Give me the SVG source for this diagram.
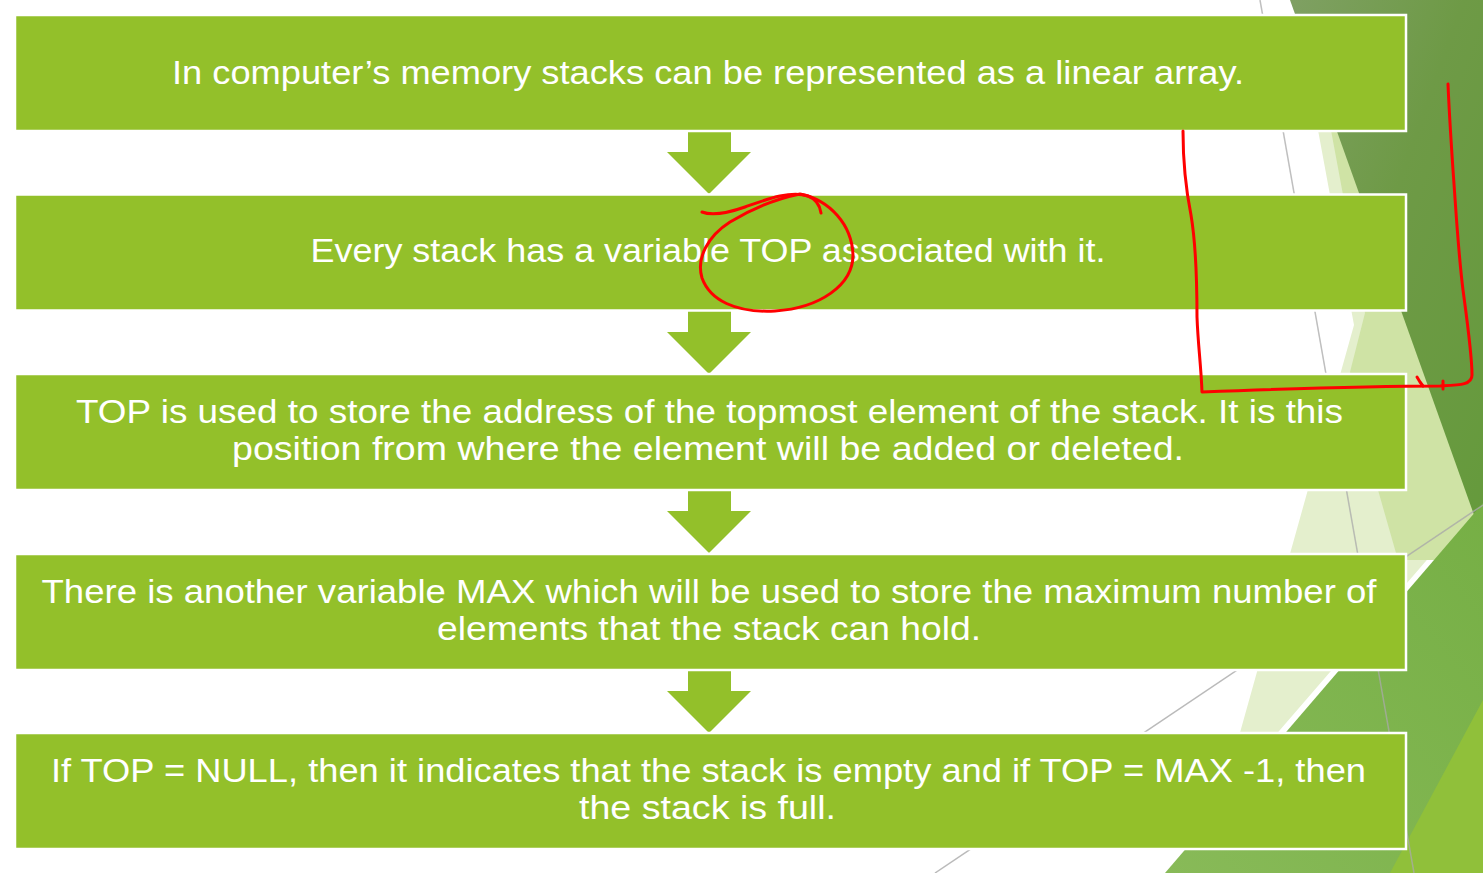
<svg xmlns="http://www.w3.org/2000/svg" width="1483" height="873" viewBox="0 0 1483 873">
  <defs>
    <linearGradient id="darkGrad" x1="0" y1="0" x2="1" y2="1">
      <stop offset="0" stop-color="#7FA063"/>
      <stop offset="0.45" stop-color="#6E9A46"/>
      <stop offset="1" stop-color="#659A3C"/>
    </linearGradient>
    <linearGradient id="medGrad" x1="0" y1="1" x2="1" y2="0">
      <stop offset="0" stop-color="#88BA58"/>
      <stop offset="1" stop-color="#76AF45"/>
    </linearGradient>
    <style>
      .box { fill: #93C02A; stroke: #FFFFFF; stroke-width: 2.5; }
      .arrow { fill: #93C02A; }
      .txt { font-family: "Liberation Sans", Arial, sans-serif; font-size: 33px; fill: #FFFFFF; text-anchor: middle; }
      .ink { fill: none; stroke: #FF0000; stroke-width: 3; stroke-linecap: round; stroke-linejoin: round; }
      .gline { stroke: #A9A9A9; stroke-width: 1.5; fill: none; }
    </style>
  </defs>

  <rect x="0" y="0" width="1483" height="873" fill="#FFFFFF"/>

  <g id="background">
    <polygon points="1290,0 1294,0 1354,325 1222,797 1483,495 1483,0" fill="#E4EFCD"/>
    <polygon points="1325,98 1365,313 1350,372 1378,490 1398,560 1483,560 1483,98" fill="#CFE3A5"/>
    <polygon points="1290,0 1483,0 1483,540" fill="url(#darkGrad)"/>
    <polygon points="1483,503 1165,873 1483,873" fill="url(#medGrad)"/>
    <polygon points="1483,700 1390,873 1483,873" fill="#90C03A"/>
    <line class="gline" x1="1260" y1="0" x2="1414" y2="873" stroke-opacity="0.75"/>
    <line class="gline" x1="935" y1="873" x2="1483" y2="505" stroke="#C8C8C8" stroke-width="1.2" stroke-opacity="0.8"/>
  </g>

  <g id="connectors">
    <polygon class="arrow" points="688,131 731,131 731,152 751,152 709,194 667,152 688,152"/>
    <polygon class="arrow" points="688,311 731,311 731,332 751,332 709,374 667,332 688,332"/>
    <polygon class="arrow" points="688,490 731,490 731,511 751,511 709,553 667,511 688,511"/>
    <polygon class="arrow" points="688,670 731,670 731,691 751,691 709,733 667,691 688,691"/>
  </g>

  <g id="node1">
    <rect class="box" x="15" y="15" width="1391" height="116"/>
    <text class="txt" x="708" y="84" textLength="1072" lengthAdjust="spacingAndGlyphs">In computer’s memory stacks can be represented as a linear array.</text>
  </g>
  <g id="node2">
    <rect class="box" x="15" y="194.5" width="1391" height="116"/>
    <text class="txt" x="708" y="262" textLength="795" lengthAdjust="spacingAndGlyphs">Every stack has a variable TOP associated with it.</text>
  </g>
  <g id="node3">
    <rect class="box" x="15" y="374" width="1391" height="116"/>
    <text class="txt" x="709.5" y="423" textLength="1267" lengthAdjust="spacingAndGlyphs">TOP is used to store the address of the topmost element of the stack. It is this</text>
    <text class="txt" x="708" y="460" textLength="952" lengthAdjust="spacingAndGlyphs">position from where the element will be added or deleted.</text>
  </g>
  <g id="node4">
    <rect class="box" x="15" y="554" width="1391" height="116"/>
    <text class="txt" x="709" y="603" textLength="1335" lengthAdjust="spacingAndGlyphs">There is another variable MAX which will be used to store the maximum number of</text>
    <text class="txt" x="709" y="640" textLength="544" lengthAdjust="spacingAndGlyphs">elements that the stack can hold.</text>
  </g>
  <g id="node5">
    <rect class="box" x="15" y="733" width="1391" height="116"/>
    <text class="txt" x="708.5" y="782" textLength="1315" lengthAdjust="spacingAndGlyphs">If TOP = NULL, then it indicates that the stack is empty and if TOP = MAX -1, then</text>
    <text class="txt" x="707.5" y="819" textLength="257" lengthAdjust="spacingAndGlyphs">the stack is full.</text>
  </g>

  <g id="annotations">
    <path class="ink" d="M702,212 C712,216 725,214 745,207 C765,200 790,190 808,196 C816,199 820,206 821,213"/>
    <path class="ink" d="M800,194 C830,200 852,225 853,255 C853,285 820,308 775,311 C735,313 710,300 702,278 C696,258 708,236 730,222 C750,210 775,199 800,194"/>
    <path class="ink" d="M1183,131 C1183,160 1186,190 1191,215 C1196,245 1197,280 1197,317 C1198,345 1201,365 1202,392 C1280,389 1380,386 1440,386 C1460,385 1472,385 1472,375 C1472,355 1467,320 1463,290 C1458,250 1456,210 1453,170 C1451,140 1449,110 1448,84"/>
    <path class="ink" d="M1417,377 L1420,382 L1423,386"/>
    <path class="ink" d="M1443,381 L1443,389"/>
  </g>
</svg>
